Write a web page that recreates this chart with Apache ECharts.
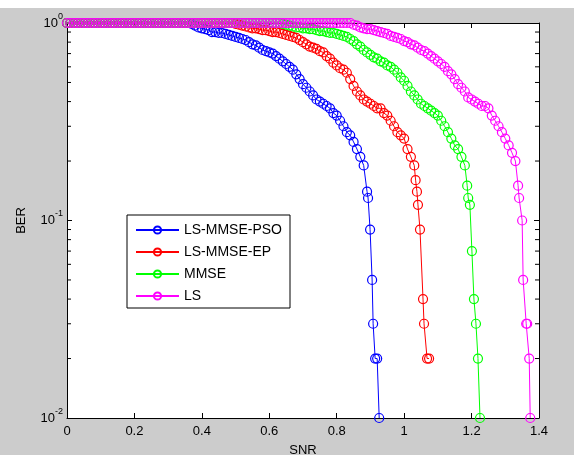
<!DOCTYPE html>
<html><head><meta charset="utf-8">
<script src="https://cdn.jsdelivr.net/npm/echarts@6/dist/echarts.min.js"></script>
<style>
html,body{margin:0;padding:0;background:#fff;overflow:hidden;}
#wrap{position:absolute;left:0;top:8px;width:574px;height:447px;background:#cccccc;}
#chart{width:574px;height:447px;}
</style></head><body>
<div id="wrap"><div id="chart"></div></div>
<script>
// ---------- data ----------
const seriesNames = ['LS-MMSE-PSO', 'LS-MMSE-EP', 'MMSE', 'LS'];
const xTickLabels = ['0', '0.2', '0.4', '0.6', '0.8', '1', '1.2', '1.4'];
const yTickValues = [0.01, 0.1, 1];
const yMinorTicks = [0.02, 0.03, 0.04, 0.05, 0.06, 0.07, 0.08, 0.09, 0.2, 0.3, 0.4, 0.5, 0.6, 0.7, 0.8, 0.9];

const snrGrid = [
  0,0.01,0.02,0.03,0.04,0.05,0.06,0.07,0.08,0.09,
  0.1,0.11,0.12,0.13,0.14,0.15,0.16,0.17,0.18,0.19,
  0.2,0.21,0.22,0.23,0.24,0.25,0.26,0.27,0.28,0.29,
  0.3,0.31,0.32,0.33,0.34,0.35,0.36,0.37,0.38,0.39,
  0.4,0.41,0.42,0.43,0.44,0.45,0.46,0.47,0.48,0.49,
  0.5,0.51,0.52,0.53,0.54,0.55,0.56,0.57,0.58,0.59,
  0.6,0.61,0.62,0.63,0.64,0.65,0.66,0.67,0.68,0.69,
  0.7,0.71,0.72,0.73,0.74,0.75,0.76,0.77,0.78,0.79,
  0.8,0.81,0.82,0.83,0.84,0.85,0.86,0.87,0.88,0.89,
  0.9,0.91,0.92,0.93,0.94,0.95,0.96,0.97,0.98,0.99,
  1,1.01,1.02,1.03,1.04,1.05,1.06,1.07,1.08,1.09,
  1.1,1.11,1.12,1.13,1.14,1.15,1.16,1.17,1.18,1.19,
  1.2,1.21,1.22,1.23,1.24,1.25,1.26,1.27,1.28,1.29,
  1.3,1.31,1.32,1.33
];

const berPSO = [
  1,1,1,1,1,1,1,1,1,1,
  1,1,1,1,1,1,1,1,1,1,
  1,1,1,1,1,1,1,1,1,1,
  1,1,1,1,1,1,1,0.99,0.97,0.95,
  0.94,0.93,0.92,0.90,0.90,0.89,0.89,0.88,0.87,0.86,
  0.85,0.84,0.83,0.82,0.80,0.78,0.77,0.75,0.73,0.72,
  0.71,0.70,0.68,0.66,0.64,0.62,0.60,0.58,0.55,0.52,
  0.49,0.47,0.45,0.43,0.41,0.40,0.39,0.38,0.37,0.35,
  0.34,0.32,0.30,0.28,0.27,0.25,0.23,0.21,0.19
];
const tailPSO = [[0.890,0.14],[0.893,0.13],[0.899,0.09],[0.905,0.05],[0.908,0.03],[0.914,0.02],[0.920,0.02],[0.926,0.01]];

const berEP = [
  1,1,1,1,1,1,1,1,1,1,
  1,1,1,1,1,1,1,1,1,1,
  1,1,1,1,1,1,1,1,1,1,
  1,1,1,1,1,1,1,1,1,1,
  1,1,1,1,1,1,1,1,1,1,
  0.99,0.98,0.97,0.96,0.95,0.94,0.94,0.93,0.92,0.92,
  0.91,0.90,0.90,0.89,0.88,0.87,0.86,0.85,0.84,0.82,
  0.80,0.78,0.76,0.75,0.74,0.72,0.71,0.68,0.66,0.63,
  0.61,0.59,0.58,0.56,0.52,0.48,0.45,0.43,0.41,0.40,
  0.39,0.38,0.37,0.37,0.35,0.34,0.32,0.30,0.28,0.27,
  0.26,0.23,0.21,0.19
];
const tailEP = [[1.034,0.16],[1.038,0.14],[1.041,0.12],[1.047,0.09],[1.056,0.04],[1.059,0.03],[1.068,0.02],[1.074,0.02]];

const berMMSE = [
  1,1,1,1,1,1,1,1,1,1,
  1,1,1,1,1,1,1,1,1,1,
  1,1,1,1,1,1,1,1,1,1,
  1,1,1,1,1,1,1,1,1,1,
  1,1,1,1,1,1,1,1,1,1,
  1,1,1,1,1,1,1,1,1,1,
  1,1,1,1,0.99,0.98,0.97,0.96,0.95,0.95,
  0.94,0.94,0.93,0.93,0.92,0.91,0.91,0.90,0.89,0.89,
  0.88,0.87,0.86,0.85,0.83,0.81,0.78,0.76,0.73,0.71,
  0.69,0.67,0.66,0.64,0.63,0.61,0.60,0.58,0.56,0.53,
  0.51,0.48,0.45,0.43,0.41,0.39,0.38,0.37,0.36,0.35,
  0.34,0.32,0.30,0.28,0.26,0.24,0.23,0.21,0.19
];
const tailMMSE = [[1.187,0.15],[1.190,0.13],[1.195,0.12],[1.201,0.07],[1.207,0.04],[1.213,0.03],[1.219,0.02],[1.225,0.01]];

const berLS = [
  1,1,1,1,1,1,1,1,1,1,
  1,1,1,1,1,1,1,1,1,1,
  1,1,1,1,1,1,1,1,1,1,
  1,1,1,1,1,1,1,1,1,1,
  1,1,1,1,1,1,1,1,1,1,
  1,1,1,1,1,1,1,1,1,1,
  1,1,1,1,1,1,1,1,1,1,
  1,1,1,1,1,1,1,1,1,1,
  1,1,1,1,1,0.98,0.97,0.95,0.94,0.93,
  0.93,0.92,0.91,0.90,0.89,0.88,0.86,0.85,0.84,0.83,
  0.81,0.80,0.78,0.77,0.75,0.73,0.72,0.70,0.68,0.66,
  0.64,0.62,0.60,0.57,0.55,0.52,0.49,0.47,0.45,0.42,
  0.41,0.40,0.39,0.38,0.38,0.37,0.34,0.32,0.30,0.28,
  0.26,0.24,0.22,0.20
];
const tailLS = [[1.338,0.15],[1.341,0.13],[1.350,0.10],[1.353,0.05],[1.362,0.03],[1.365,0.03],[1.371,0.02],[1.374,0.01]];

const seriesColors = ['#0000ff', '#ff0000', '#00ff00', '#ff00ff'];

// ---------- build ----------
function build(ber, tail) {
  return ber.map((b, i) => [snrGrid[i], b]).concat(tail);
}
const allData = [build(berPSO, tailPSO), build(berEP, tailEP), build(berMMSE, tailMMSE), build(berLS, tailLS)];

const FONT = '"Liberation Sans", Arial, Helvetica, sans-serif';
const chart = echarts.init(document.getElementById('chart'), null, {renderer: 'canvas'});

const lineSeries = seriesNames.map((name, k) => ({
  name: name,
  type: 'line',
  data: allData[k],
  symbol: 'circle',
  symbolSize: 9,
  showSymbol: true,
  clip: true,
  lineStyle: {color: seriesColors[k], width: 1},
  itemStyle: {color: 'rgba(255,255,255,0)', borderColor: seriesColors[k], borderWidth: 1.2},
  emphasis: {disabled: true},
  silent: true,
  z: 2 + k
}));

const minorTickSeries = {
  type: 'custom',
  xAxisIndex: 0, yAxisIndex: 0,
  silent: true,
  z: 10,
  data: yMinorTicks.map(v => [0, v]),
  renderItem: function (params, api) {
    const v = api.value(1);
    const a = api.coord([0, v]);
    const b = api.coord([1.4, v]);
    return {type: 'group', children: [
      {type: 'line', shape: {x1: a[0], y1: a[1], x2: a[0] + 4, y2: a[1]}, style: {stroke: '#000', lineWidth: 1}},
      {type: 'line', shape: {x1: b[0], y1: b[1], x2: b[0] - 4, y2: b[1]}, style: {stroke: '#000', lineWidth: 1}}
    ]};
  }
};

const axisLineStyle = {show: true, onZero: false, lineStyle: {color: '#000', width: 1}};
const tickStyle = {show: true, inside: true, length: 5, lineStyle: {color: '#000', width: 1}};

const option = {
  animation: false,
  backgroundColor: 'transparent',
  grid: {left: 67, right: 35, top: 15, bottom: 37, show: true, backgroundColor: '#fff', borderWidth: 0,
         containLabel: false, outerBoundsMode: 'none'},
  legend: {
    data: seriesNames,
    orient: 'vertical',
    left: 127, top: 207,
    backgroundColor: '#fff',
    borderColor: '#000', borderWidth: 1,
    borderRadius: 0,
    padding: [8, 8, 5, 8],
    itemGap: 8,
    itemWidth: 43, itemHeight: 9,
    textStyle: {fontFamily: FONT, fontSize: 14, color: '#000'},
    selectedMode: false
  },
  xAxis: [
    {
      type: 'value', position: 'bottom', min: 0, max: 1.4, interval: 0.2,
      axisLine: axisLineStyle, axisTick: tickStyle, splitLine: {show: false},
      axisLabel: {color: '#000', fontSize: 13, fontFamily: FONT, margin: 7,
        formatter: v => xTickLabels[Math.round(v / 0.2)]},
      name: 'SNR', nameLocation: 'middle', nameGap: 26,
      nameTextStyle: {color: '#000', fontSize: 13, fontFamily: FONT}
    },
    {
      type: 'value', position: 'top', min: 0, max: 1.4, interval: 0.2,
      axisLine: axisLineStyle, axisTick: tickStyle, splitLine: {show: false},
      axisLabel: {show: false}
    }
  ],
  yAxis: [
    {
      type: 'log', logBase: 10, position: 'left', min: yTickValues[0], max: yTickValues[2],
      axisLine: axisLineStyle, axisTick: tickStyle, splitLine: {show: false}, minorTick: {show: false},
      axisLabel: {
        margin: 4,
        formatter: v => '{b|10}{s|' + Math.round(Math.log10(v)) + '}',
        rich: {
          b: {fontSize: 13, fontFamily: FONT, color: '#000', verticalAlign: 'middle', lineHeight: 22},
          s: {fontSize: 9, fontFamily: FONT, color: '#000', verticalAlign: 'top', lineHeight: 22}
        }
      },
      name: 'BER', nameLocation: 'middle', nameGap: 39, nameRotate: 90,
      nameTextStyle: {color: '#000', fontSize: 13, fontFamily: FONT}
    },
    {
      type: 'log', logBase: 10, position: 'right', min: yTickValues[0], max: yTickValues[2],
      axisLine: axisLineStyle, axisTick: tickStyle, splitLine: {show: false},
      axisLabel: {show: false}
    }
  ],
  series: lineSeries.concat([minorTickSeries])
};
chart.setOption(option);
</script>
</body></html>
